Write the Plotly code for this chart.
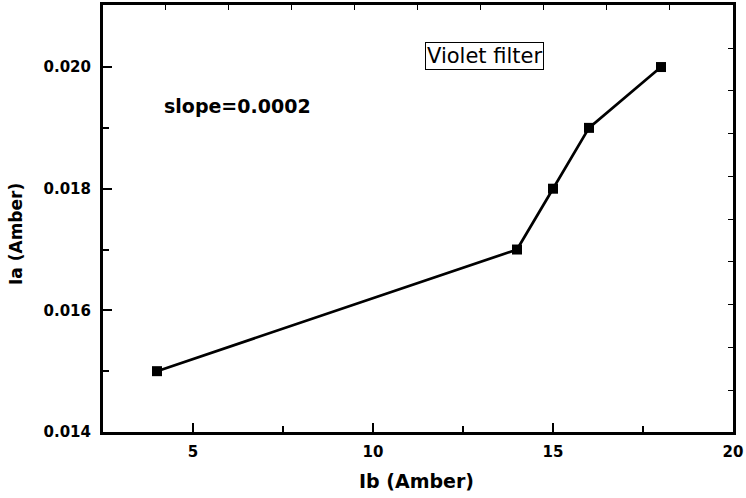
import plotly.graph_objects as go

ib = [4, 14, 15, 16, 18]
ia = [0.015, 0.017, 0.018, 0.019, 0.020]
x_ticks = [5, 10, 15, 20]
y_ticks = [0.014, 0.016, 0.018, 0.020]
y_tick_labels = ["0.014", "0.016", "0.018", "0.020"]

fig = go.Figure()
fig.add_trace(go.Scatter(
    x=ib, y=ia, mode="lines+markers",
    line=dict(color="black", width=2.7),
    marker=dict(symbol="square", size=10, color="black"),
    showlegend=False,
))
# invisible trace to activate the mirrored decorative axes
fig.add_trace(go.Scatter(x=[None], y=[None], xaxis="x2", yaxis="y2", showlegend=False))

tick_font = dict(family="DejaVu Sans", size=15, color="black", weight="bold")

fig.update_layout(
    width=746, height=498,
    margin=dict(l=103, r=13, t=5, b=66, autoexpand=False),
    paper_bgcolor="white", plot_bgcolor="white",
    xaxis=dict(
        range=[2.5, 20], tickvals=x_ticks, ticks="inside", ticklen=9, tickwidth=2,
        tickcolor="black", showline=True, linecolor="black", linewidth=3,
        showgrid=False, zeroline=False, tickfont=tick_font, automargin=False,
        ticklabelstandoff=4,
        minor=dict(tickvals=[7.5, 12.5, 17.5], ticks="inside", ticklen=6, tickwidth=2, tickcolor="black"),
    ),
    yaxis=dict(
        range=[0.014, 0.02102], tickvals=y_ticks, ticktext=y_tick_labels, ticks="inside", ticklen=9, tickwidth=2,
        tickcolor="black", showline=True, linecolor="black", linewidth=3,
        showgrid=False, zeroline=False, tickfont=tick_font, automargin=False,
        ticklabelstandoff=6,
        minor=dict(tickvals=[0.015, 0.017, 0.019], ticks="inside", ticklen=6, tickwidth=2, tickcolor="black"),
    ),
    xaxis2=dict(
        overlaying="x", side="top", range=[0, 630], tick0=62, dtick=63.1,
        ticks="inside", ticklen=5, tickwidth=1, tickcolor="black", showticklabels=False,
        showline=True, linecolor="black", linewidth=3, showgrid=False, zeroline=False,
        automargin=False,
    ),
    yaxis2=dict(
        overlaying="y", side="right", range=[0, 427], tick0=42, dtick=42.75,
        ticks="inside", ticklen=5, tickwidth=1, tickcolor="black", showticklabels=False,
        showline=True, linecolor="black", linewidth=3, showgrid=False, zeroline=False,
        automargin=False,
    ),
    annotations=[
        dict(text="Violet filter", xref="paper", yref="paper", x=(484 - 103) / 630, y=(432 - 56) / 427,
             xanchor="center", yanchor="middle",
             showarrow=False, font=dict(family="DejaVu Sans", size=21, color="black"),
             bordercolor="black", borderwidth=1, borderpad=1, bgcolor="white"),
        dict(text="slope=0.0002", xref="paper", yref="paper", x=(237 - 103) / 630, y=(432 - 106) / 427,
             xanchor="center", yanchor="middle",
             showarrow=False, font=dict(family="DejaVu Sans", size=19, color="black", weight="bold")),
        dict(text="Ib (Amber)", xref="paper", yref="paper", x=(416 - 103) / 630, y=(432 - 481) / 427,
             xanchor="center", yanchor="middle",
             showarrow=False, font=dict(family="DejaVu Sans", size=19, color="black", weight="bold")),
        dict(text="Ia (Amber)", xref="paper", yref="paper", x=(16 - 103) / 630, y=(432 - 234) / 427,
             xanchor="center", yanchor="middle",
             showarrow=False, textangle=-90,
             font=dict(family="DejaVu Sans", size=17, color="black", weight="bold")),
    ],
)

fig.write_html("out.html", config={"displayModeBar": False},
               post_script="document.body.style.margin='0';document.body.style.padding='0';")
